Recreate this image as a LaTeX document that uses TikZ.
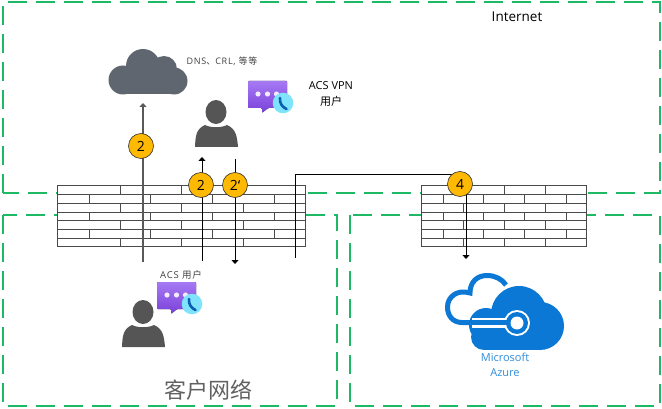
\documentclass[tikz,border=0pt]{standalone}
\usepackage{fontspec}
\setmainfont{Open Sans}
\newfontfamily\cjk{Noto Sans CJK SC}
\newfontfamily\latinwide[LetterSpace=8]{Open Sans}
\newfontfamily\cjkwide[LetterSpace=8]{Noto Sans CJK SC}
\usetikzlibrary{arrows.meta,shadings}
\definecolor{zonegreen}{HTML}{1DB964}
\definecolor{wallgray}{HTML}{4A4A4A}
\definecolor{badgeyellow}{HTML}{FFB900}
\definecolor{cloudgray}{HTML}{5F6670}
\definecolor{persongray}{HTML}{555555}
\definecolor{azureblue}{HTML}{0A78D4}
\definecolor{chattop}{HTML}{A67AF4}
\definecolor{chatbottom}{HTML}{7A3FD8}
\definecolor{phonecyan}{HTML}{7FE3FB}
\definecolor{phoneblue}{HTML}{0A5FB4}
\begin{document}
\begin{tikzpicture}[x=1pt,y=-1pt]
	\tikzstyle{zone}=[draw=zonegreen,line width=1.8pt,dash pattern=on 19pt off 9pt]
	\tikzstyle{wall}=[draw=wallgray,fill=white,line width=1pt,inner sep=0pt,outer sep=0pt]
	\tikzstyle{brick}=[draw=wallgray,line width=0.9pt]
	\tikzstyle{badge}=[circle,draw=black!80,fill=badgeyellow,line width=0.6pt,minimum size=25pt,inner sep=0pt,font=\fontsize{14}{14}\selectfont]
	\tikzstyle{edge}=[draw=black,line width=0.9pt,-{Triangle[width=7pt,length=4pt]}]
	\tikzstyle{edgegray}=[draw=black!65,line width=1.2pt,-{Triangle[width=7pt,length=4pt]}]
	\tikzstyle{label}=[inner sep=0pt,text=black!75]
	\useasboundingbox (0,0) rectangle (662,409);

	% zones
	\draw[zone] (3,193) -- (3,2) -- (660,2) -- (660,193) -- cycle;
	\draw[zone] (3,215) -- (3,406) -- (337,406) -- (337,215) -- cycle;
	\draw[zone] (350,215) -- (350,406) -- (660,406) -- (660,215) -- cycle;

	% firewalls
	\node[wall,minimum width=247.5pt,minimum height=61.5pt] (wallA) at (181.25,216) {};
	\node[wall,minimum width=165pt,minimum height=61.5pt] (wallB) at (504.25,216) {};
	\foreach \y in {194.7,203.5,212,220.5,229,238} {
		\draw[brick] (57.5,\y) -- (305,\y);
		\draw[brick] (421.75,\y) -- (586.75,\y);
	}
	\foreach \y in {185.25,203.5,220.5,238} {
		\foreach \x in {120,181.3,243} \draw[brick] (\x,\y) -- (\x,\y+9);
		\foreach \x in {463,504,545} \draw[brick] (\x,\y) -- (\x,\y+9);
	}
	\foreach \y in {194.7,212,229} {
		\foreach \x in {89,150,212,274} \draw[brick] (\x,\y) -- (\x,\y+8.7);
		\foreach \x in {443,483,524,566} \draw[brick] (\x,\y) -- (\x,\y+8.7);
	}

	% cloud
	\fill[cloudgray] (123,80) circle (14.5) (143,66) circle (17) (164,69) circle (13) (174,81) circle (13.5);
	\fill[cloudgray] (123,72) rectangle (174,94.5);

	% persons
	\foreach \dx/\dy/\n in {0/0/top,-73/200/low} {
		\begin{scope}[shift={(\dx,\dy)}]
			\fill[persongray] (216,112) ellipse (10.5 and 12);
			\fill[persongray] (195,147) .. controls (195.5,136) and (196,129) .. (205,125) .. controls (211,128) and (221,128) .. (227,125) .. controls (236,129) and (237,136) .. (238,147) -- cycle;
		\end{scope}
	}

	% chat icons
	\foreach \dx/\dy/\n in {0/0/top,-91/201/low} {
		\begin{scope}[shift={(\dx,\dy)}]
			\fill[rounded corners=1pt,top color=chattop,bottom color=chatbottom] (248,81) -- (287,81) -- (287,108) -- (268,108) -- (262,113) -- (262,108) -- (248,108) -- cycle;
			\fill[white!85!chattop] (258,94) circle (2.6) (267.5,94) circle (2.6) (276.5,94) circle (2.6);
			\fill[phonecyan] (283,103) circle (10.3);
			\draw[phoneblue,line width=2.6pt,line cap=round] (280,98) .. controls (279.5,103) and (282,107) .. (286.5,109);
		\end{scope}
	}

	% azure
	\draw[azureblue,line width=5pt] (506,285) .. controls (502,279) and (495,275.5) .. (487,275.5) .. controls (477,275.5) and (470,282) .. (470,293) .. controls (457,289) and (447.5,297) .. (447.5,307) .. controls (447.5,316) and (453,322.5) .. (462,322.5) -- (470,322.5);
	\fill[white] (519,314) circle (30);
	\fill[azureblue] (519,314) circle (28) (540,326) circle (24) (486,325) circle (17) (484,337) circle (13);
	\fill[azureblue] (484,330) rectangle (540,350);
	\fill[white] (472,317.5) rectangle (512,327.5);
	\fill[white] (517,323) circle (13);
	\draw[azureblue,line width=5pt] (465,322.5) -- (512,322.5);
	\fill[azureblue] (517,323) circle (11);
	\fill[white] (517,323) circle (6.5);

	% connector ends
	\coordinate (dnsFrom) at (143,262);
	\coordinate (dnsTo) at (143,103);
	\coordinate (userFrom) at (202,261);
	\coordinate (userTo) at (202,157);
	\coordinate (vpnFrom) at (235,159);
	\coordinate (vpnTo) at (235,264);
	\coordinate (azFrom) at (295,258);
	\coordinate (azBend) at (295,174.5);
	\coordinate (azCorner) at (466,174.5);
	\coordinate (azTo) at (466,259);

	\path[edgegray] (dnsFrom) -- (dnsTo);
	\path[edge] (userFrom) -- (userTo);
	\path[edge] (vpnFrom) -- (vpnTo);
	\path[edge] (azFrom) -- (azBend) -- (azCorner) -- (azTo);

	\node[badge] (badgeDns) at (141,146) {2};
	\node[badge] (badgeUser) at (201,185) {2};
	\node[badge] (badgeVpn) at (235,185) {2\char96};
	\node[badge] (badgeAz) at (460,184) {4};

	% labels
	\node[label,text=black,font=\fontsize{13.5}{13.5}\selectfont] (internet) at (517,17) {Internet};
	\node[label,font=\fontsize{9}{9}\selectfont\latinwide] (dns) at (222,61) {DNS{\cjkwide 、}CRL, {\cjkwide 等等}};
	\node[label,text=black,align=center,font=\fontsize{11}{16}\selectfont] (vpnLabel) at (331,94) {ACS VPN\\{\cjk 用户}};
	\node[label,font=\fontsize{9.5}{9.5}\selectfont\latinwide] (acsLabel) at (181,275) {ACS {\cjkwide 用户}};
	\node[label,text=black!62,font=\fontsize{22}{22}\selectfont\cjk] (customer) at (208,390) {客户网络};
	\node[label,text=azureblue!85,align=center,font=\fontsize{11}{15}\selectfont] (azure) at (505,364.5) {Microsoft\\Azure};
\end{tikzpicture}
\end{document}
